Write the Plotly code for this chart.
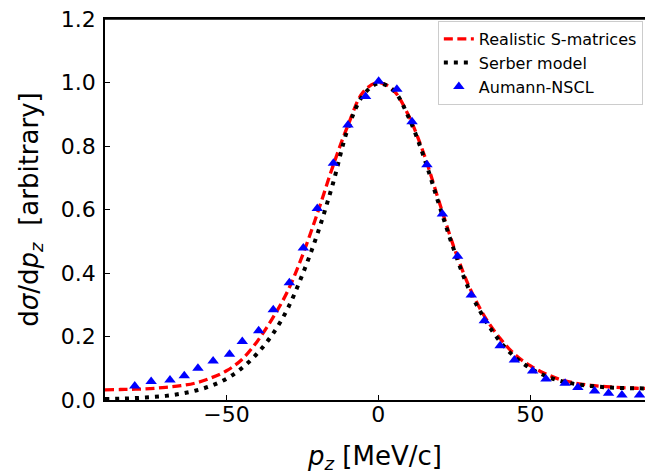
import plotly.graph_objects as go

# Curves (p_z in MeV/c)
x_curve = [-90, -85, -80, -75, -70, -65, -60, -55, -50, -45, -40, -35, -30, -25, -20,
           -15, -10, -5, 0, 5, 10, 15, 20, 25, 30, 35, 40, 45, 50, 55, 60, 65, 70, 75,
           80, 85, 90]
realistic = [0.032, 0.033, 0.034, 0.036, 0.040, 0.045, 0.054, 0.070, 0.092, 0.127, 0.183,
             0.255, 0.340, 0.455, 0.590, 0.735, 0.865, 0.970, 1.000, 0.975, 0.895, 0.775,
             0.625, 0.478, 0.355, 0.263, 0.195, 0.143, 0.108, 0.083, 0.064, 0.053, 0.046,
             0.042, 0.039, 0.037, 0.036]
serber = [0.003, 0.004, 0.006, 0.009, 0.013, 0.020, 0.030, 0.045, 0.067, 0.100, 0.145,
          0.205, 0.285, 0.395, 0.525, 0.680, 0.855, 0.960, 0.997, 0.975, 0.890, 0.765,
          0.615, 0.470, 0.345, 0.255, 0.185, 0.135, 0.100, 0.076, 0.060, 0.050, 0.044,
          0.040, 0.038, 0.037, 0.036]

# Aumann-NSCL data
x_data = [-80.2, -74.8, -68.6, -63.9, -59.4, -54.4, -49.0, -44.8, -39.4, -34.6, -29.3,
          -24.7, -20.1, -14.8, -10.0, -4.2, 0.1, 6.1, 11.1, 16.0, 21.1, 26.1, 30.6, 34.9,
          40.1, 44.8, 50.8, 55.2, 61.5, 65.7, 71.2, 75.8, 80.2, 86.0]
y_data = [0.044, 0.058, 0.063, 0.076, 0.100, 0.123, 0.144, 0.184, 0.218, 0.284, 0.369,
          0.479, 0.603, 0.746, 0.866, 0.956, 1.004, 0.979, 0.876, 0.741, 0.586, 0.453,
          0.331, 0.250, 0.171, 0.126, 0.091, 0.066, 0.053, 0.039, 0.028, 0.021, 0.016,
          0.016]

fig = go.Figure()
fig.add_trace(go.Scatter(x=x_curve, y=realistic, mode="lines", name="Realistic S-matrices",
                         line=dict(color="red", width=3.3, dash="9px,4.5px", shape="spline")))
fig.add_trace(go.Scatter(x=x_curve, y=serber, mode="lines", name="Serber model",
                         line=dict(color="black", width=4, dash="4px,6px", shape="spline")))
fig.add_trace(go.Scatter(x=x_data, y=y_data, mode="markers", name="Aumann-NSCL",
                         marker=dict(symbol="triangle-up", color="blue", size=10,
                                     line=dict(width=0))))

font_family = "DejaVu Sans"
fig.update_layout(
    width=645, height=474,
    margin=dict(l=105, r=0, t=19, b=74),
    paper_bgcolor="white", plot_bgcolor="white",
    font=dict(family=font_family, color="black"),
    showlegend=True,
    legend=dict(x=0.996, y=0.995, xanchor="right", yanchor="top",
                bgcolor="white", bordercolor="#cccccc", borderwidth=1,
                font=dict(size=16, family=font_family, color="black")),
    xaxis=dict(range=[-90, 87.8], tickvals=[-50, 0, 50], ticks="inside", ticklen=5,
               tickwidth=1, tickcolor="black", showline=True, linecolor="black",
               linewidth=1.5, mirror=True, showgrid=False, zeroline=False,
               tickfont=dict(size=22), ticklabelstandoff=-6,
               title=dict(text="<i>p</i><sub><i>z</i></sub> [MeV/c]",
                          font=dict(size=26), standoff=28)),
    yaxis=dict(range=[0, 1.2], tickvals=[0, 0.2, 0.4, 0.6, 0.8, 1.0, 1.2], tickformat=".1f",
               ticks="inside", ticklen=5, tickwidth=1, tickcolor="black",
               showline=True, linecolor="black", linewidth=1.5, mirror=False,
               showgrid=False, zeroline=False, tickfont=dict(size=22), ticklabelstandoff=3,
               title=dict(text="d<i>σ</i>/d<i>p</i><sub><i>z</i></sub>&nbsp; [arbitrary]",
                          font=dict(size=26), standoff=15)),
    shapes=[dict(type="line", xref="paper", yref="paper", x0=0, x1=1, y0=1, y1=1,
                 line=dict(color="black", width=1.5), layer="above")],
)

# remove the default 8px page margin so the figure sits at the window's corner
fig.write_html("out.html", config={"displayModeBar": False},
               post_script="document.body.style.margin='0px';")
